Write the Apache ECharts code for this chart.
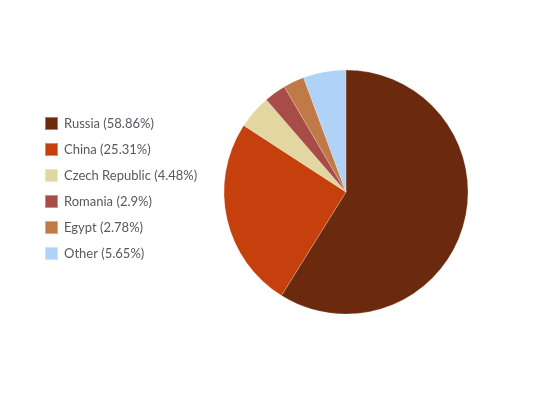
<!DOCTYPE html>
<html>
<head>
<meta charset="utf-8">
<script src="https://cdn.jsdelivr.net/npm/echarts@6/dist/echarts.min.js"></script>
<style>
  html, body { margin: 0; padding: 0; background: #fff; }
  #chart { width: 556px; height: 393px; }
</style>
</head>
<body>
<div id="chart"></div>
<script>
  var categories = ["Russia", "China", "Czech Republic", "Romania", "Egypt", "Other"];
  var shares = [58.86, 25.31, 4.48, 2.9, 2.78, 5.65];
  var colors = ["#6b2a0e", "#c5400c", "#e2d7a0", "#a84c47", "#c07a48", "#aed3f7"];

  var chart = echarts.init(document.getElementById("chart"));

  var pieData = categories.map(function (name, i) {
    return { name: name, value: shares[i], itemStyle: { color: colors[i] } };
  });

  var option = {
    animation: false,
    legend: {
      orient: "vertical",
      left: 39,
      top: 111,
      itemWidth: 13,
      itemHeight: 13,
      itemGap: 11,
      icon: "rect",
      textStyle: {
        fontFamily: "Lato",
        fontSize: 13,
        lineHeight: 13,
        padding: [0, 0, 0, 1],
        color: "#555a60",
      },
      formatter: function (name) {
        var i = categories.indexOf(name);
        return name + " (" + shares[i] + "%)";
      },
      data: categories,
    },
    series: [
      {
        type: "pie",
        center: [346, 192],
        radius: [0, 122],
        startAngle: 90,
        clockwise: true,
        label: { show: false },
        labelLine: { show: false },
        itemStyle: {
          borderColor: "rgba(255,255,255,0.4)",
          borderWidth: 0.5,
        },
        emphasis: { disabled: true },
        data: pieData,
      },
    ],
  };
  chart.setOption(option);
</script>
</body>
</html>
